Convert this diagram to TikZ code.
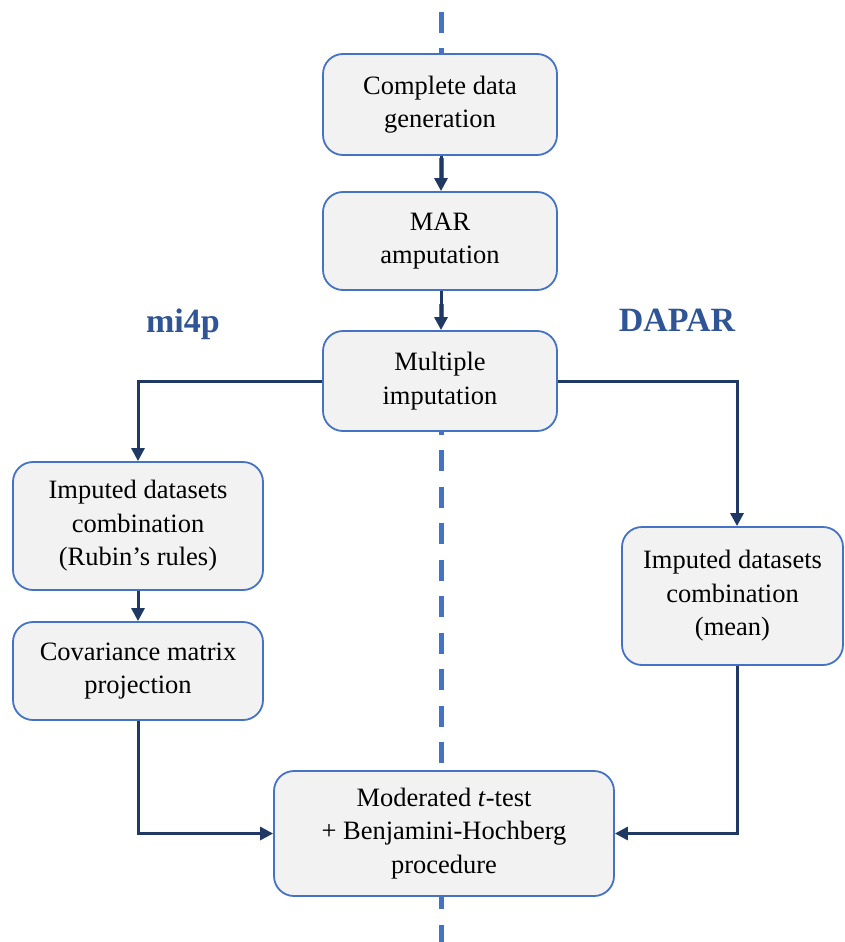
\documentclass[tikz,border=0pt]{standalone}
\usepackage{fontspec}
\setmainfont{Liberation Serif}
\usetikzlibrary{arrows.meta}
\definecolor{boxblue}{HTML}{4472C4}
\definecolor{boxfill}{HTML}{F2F2F2}
\definecolor{arrownavy}{HTML}{203864}
\definecolor{labelblue}{HTML}{2F5597}
\begin{document}
\begin{tikzpicture}[x=1pt,y=-1pt,
  stepbox/.style={draw=boxblue, line width=1.8pt, fill=boxfill, rounded corners=20pt,
    align=center, inner sep=0pt, font=\fontsize{26.5}{33.5}\selectfont},
  conn/.style={draw=arrownavy, line width=3pt, -{Triangle[length=13pt,width=13pt]}},
  lab/.style={text=labelblue, font=\fontsize{34}{40}\selectfont\bfseries}]
\useasboundingbox (0,0) rectangle (844,942);
\draw[boxblue, line width=5pt, dash pattern=on 21pt off 15.5pt] (441,12) -- (441,942);
\node[stepbox, minimum width=234pt, minimum height=101pt] (gen) at (440,104.5) {Complete data\\generation};
\node[stepbox, minimum width=234pt, minimum height=98pt] (mar) at (440,241) {MAR\\amputation};
\node[stepbox, minimum width=234pt, minimum height=100pt] (mi) at (440,381) {Multiple\\imputation};
\node[stepbox, minimum width=250pt, minimum height=128pt] (rub) at (138,526) {Imputed datasets\\combination\\(Rubin’s rules)};
\node[stepbox, minimum width=250pt, minimum height=98pt] (cov) at (138,671) {Covariance matrix\\projection};
\node[stepbox, minimum width=221pt, minimum height=138pt] (mean) at (732.5,596) {Imputed datasets\\combination\\(mean)};
\node[stepbox, minimum width=340pt, minimum height=125pt] (mod) at (444,833.5) {Moderated \textit{t}-test\\+ Benjamini-Hochberg\\procedure};
\node[lab] (mi4p) at (183,324) {mi4p};
\node[lab] (dapar) at (677,320) {DAPAR};
\draw[conn] (gen.south -| 441,0) -- (mar.north -| 441,0);
\draw[conn] (mar.south -| 441,0) -- (mi.north -| 441,0);
\draw[conn] (mi.west) -| (rub.north);
\draw[conn] (mi.east) -| (mean.north -| 737,0);
\draw[conn] (rub.south) -- (cov.north);
\draw[conn] (cov.south) |- (mod.west);
\draw[conn] (mean.south -| 737,0) |- (mod.east);
\end{tikzpicture}
\end{document}
